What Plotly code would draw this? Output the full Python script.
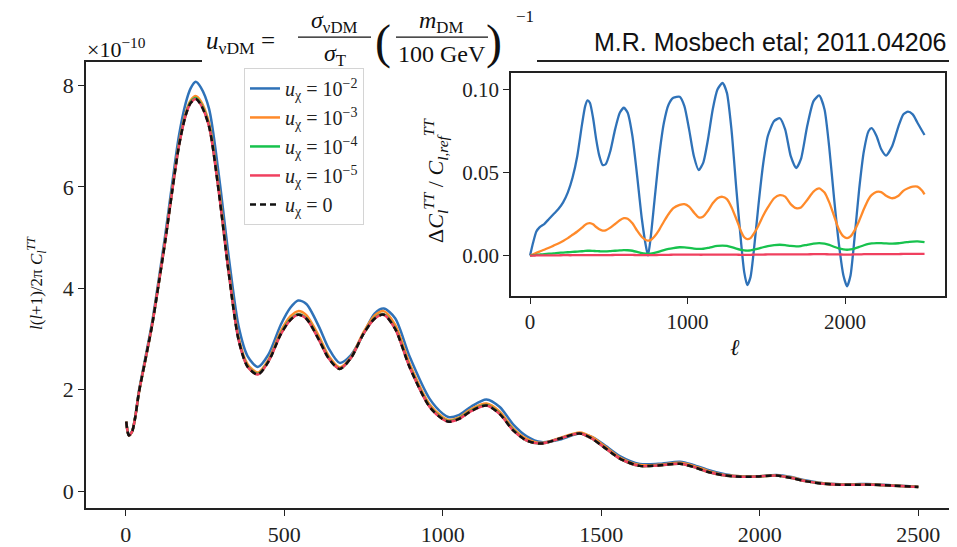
import plotly.graph_objects as go

# ---------------- data: main panel (units of 1e-10) ----------------
ell_main = [2, 5, 10, 20, 30, 42, 60, 84, 105, 126, 147, 168, 189, 205, 221, 237, 263, 294, 326, 357,
            385, 417, 450, 490, 520, 544, 570, 610, 640, 675, 710, 750, 785, 814, 850, 896, 959, 1000,
            1020, 1050, 1090, 1138, 1180, 1222, 1265, 1311, 1370, 1432, 1470, 1506, 1560, 1621, 1680,
            1748, 1790, 1832, 1880, 1926, 1990, 2052, 2100, 2147, 2200, 2252, 2300, 2357, 2420, 2500]

cl_u0 = [1.37, 1.22, 1.10, 1.17, 1.45, 1.95, 2.52, 3.29, 4.12, 4.98, 5.92, 6.80, 7.40, 7.65, 7.73, 7.62,
         7.19, 5.89, 4.26, 2.96, 2.45, 2.30, 2.55, 3.10, 3.38, 3.48, 3.40, 2.98, 2.62, 2.41, 2.62, 3.10,
         3.40, 3.48, 3.20, 2.44, 1.66, 1.42, 1.37, 1.42, 1.58, 1.69, 1.52, 1.20, 1.00, 0.94, 1.04, 1.14,
         1.04, 0.88, 0.64, 0.50, 0.51, 0.54, 0.48, 0.39, 0.32, 0.29, 0.29, 0.31, 0.26, 0.195, 0.15, 0.13,
         0.13, 0.13, 0.11, 0.085]

cl_u2 = [1.37, 1.22, 1.11, 1.18, 1.46, 1.98, 2.56, 3.35, 4.20, 5.10, 6.07, 7.00, 7.64, 7.94, 8.07, 7.96,
         7.54, 6.23, 4.58, 3.23, 2.66, 2.45, 2.69, 3.29, 3.62, 3.76, 3.69, 3.24, 2.82, 2.53, 2.68, 3.10,
         3.50, 3.60, 3.41, 2.65, 1.82, 1.53, 1.46, 1.50, 1.67, 1.81, 1.66, 1.32, 1.085, 0.97, 1.02, 1.14,
         1.07, 0.93, 0.69, 0.54, 0.54, 0.58, 0.52, 0.43, 0.35, 0.30, 0.29, 0.32, 0.28, 0.21, 0.16, 0.14,
         0.14, 0.14, 0.12, 0.09]

cl_u3 = [1.37, 1.22, 1.10, 1.17, 1.45, 1.95, 2.52, 3.30, 4.14, 5.00, 5.95, 6.84, 7.45, 7.70, 7.79, 7.69,
         7.26, 5.97, 4.33, 3.01, 2.50, 2.34, 2.59, 3.16, 3.45, 3.55, 3.47, 3.05, 2.67, 2.44, 2.64, 3.13,
         3.46, 3.55, 3.28, 2.51, 1.71, 1.46, 1.40, 1.45, 1.62, 1.73, 1.57, 1.24, 1.03, 0.95, 1.05, 1.16,
         1.07, 0.91, 0.66, 0.52, 0.52, 0.56, 0.50, 0.41, 0.33, 0.30, 0.29, 0.31, 0.27, 0.20, 0.16, 0.135,
         0.135, 0.135, 0.115, 0.088]

cl_u4 = [1.37, 1.22, 1.10, 1.17, 1.45, 1.95, 2.52, 3.29, 4.12, 4.98, 5.93, 6.81, 7.41, 7.67, 7.75, 7.64,
         7.21, 5.91, 4.27, 2.97, 2.46, 2.31, 2.56, 3.11, 3.39, 3.49, 3.41, 2.99, 2.63, 2.41, 2.62, 3.10,
         3.41, 3.49, 3.21, 2.45, 1.67, 1.43, 1.38, 1.43, 1.59, 1.70, 1.53, 1.21, 1.00, 0.94, 1.04, 1.14,
         1.04, 0.88, 0.64, 0.50, 0.51, 0.54, 0.48, 0.39, 0.32, 0.29, 0.29, 0.31, 0.26, 0.195, 0.15, 0.13,
         0.13, 0.13, 0.11, 0.085]

cl_u5 = [1.37, 1.22, 1.10, 1.17, 1.45, 1.95, 2.52, 3.29, 4.12, 4.98, 5.92, 6.80, 7.40, 7.65, 7.73, 7.62,
         7.19, 5.89, 4.26, 2.96, 2.45, 2.30, 2.55, 3.10, 3.38, 3.48, 3.40, 2.98, 2.62, 2.41, 2.62, 3.10,
         3.40, 3.48, 3.20, 2.44, 1.66, 1.42, 1.37, 1.42, 1.58, 1.69, 1.52, 1.20, 1.00, 0.94, 1.04, 1.14,
         1.04, 0.88, 0.64, 0.50, 0.51, 0.54, 0.48, 0.39, 0.32, 0.29, 0.29, 0.31, 0.26, 0.195, 0.15, 0.13,
         0.13, 0.13, 0.11, 0.085]

# ---------------- data: inset (relative difference) ----------------
ell_inset = [0, 20, 40, 60, 90, 120, 150, 180, 210, 240, 270, 300, 330, 350, 365, 380, 400, 420, 440, 461,
             480, 510, 540, 570, 596, 620, 650, 680, 710, 735, 749, 765, 790, 820, 850, 880, 910, 950, 980,
             1010, 1040, 1071, 1100, 1130, 1160, 1190, 1222, 1250, 1280, 1310, 1340, 1360, 1379, 1400,
             1420, 1450, 1480, 1510, 1550, 1586, 1620, 1655, 1690, 1720, 1760, 1800, 1836, 1870, 1900,
             1930, 1960, 1990, 2013, 2035, 2060, 2090, 2120, 2150, 2170, 2200, 2230, 2261, 2300, 2340,
             2370, 2400, 2430, 2460, 2490, 2505]

d_u2 = [0.0, 0.008, 0.0145, 0.017, 0.019,
        0.022, 0.025, 0.028, 0.032, 0.038,
        0.047, 0.060, 0.079, 0.090, 0.0935,
        0.092, 0.083, 0.070, 0.060, 0.0545,
        0.055, 0.063, 0.076, 0.086, 0.089,
        0.086, 0.072, 0.048, 0.022, 0.006,
        0.0, 0.010, 0.033, 0.060, 0.080,
        0.091, 0.095, 0.0956, 0.090, 0.076,
        0.060, 0.0515, 0.056, 0.070, 0.088,
        0.100, 0.104, 0.098, 0.075, 0.040,
        0.008, -0.010, -0.0178, -0.013, 0.002,
        0.030, 0.055, 0.072, 0.081, 0.0827,
        0.076, 0.060, 0.0527, 0.058, 0.078,
        0.093, 0.0964, 0.088, 0.065, 0.035,
        0.008, -0.012, -0.0185, -0.012, 0.010,
        0.040, 0.063, 0.075, 0.0767, 0.072,
        0.064, 0.0602, 0.066, 0.078, 0.085,
        0.0867, 0.085, 0.080, 0.075, 0.0726]

d_u3 = [0.0, 0.0008, 0.0016, 0.0024, 0.0035,
        0.0047, 0.006, 0.0073, 0.0088, 0.0105,
        0.0125, 0.0145, 0.0168, 0.0185, 0.0193,
        0.0195, 0.0188, 0.0172, 0.0158, 0.0150,
        0.0152, 0.0168, 0.019, 0.0213, 0.0225,
        0.0222, 0.0195, 0.0150, 0.0112, 0.0094,
        0.009, 0.0093, 0.0115, 0.0155, 0.0205,
        0.025, 0.0285, 0.0305, 0.031, 0.0295,
        0.026, 0.0230, 0.0235, 0.027, 0.0315,
        0.0345, 0.0354, 0.034, 0.029, 0.022,
        0.0145, 0.011, 0.0099, 0.0105, 0.013,
        0.018, 0.024, 0.029, 0.0345, 0.0364,
        0.0355, 0.031, 0.0285, 0.029, 0.0335,
        0.0385, 0.0404, 0.038, 0.032, 0.024,
        0.016, 0.0115, 0.0105, 0.0115, 0.015,
        0.021, 0.028, 0.034, 0.0365, 0.0383,
        0.0382, 0.036, 0.0345, 0.036, 0.039,
        0.0405, 0.0415, 0.0415, 0.039, 0.0368]

d_u4 = [0.0, 0.0002, 0.0004, 0.0006, 0.0009,
        0.0011, 0.0013, 0.0016, 0.0018, 0.002,
        0.0022, 0.0024, 0.0026, 0.0028, 0.0029,
        0.0029, 0.0028, 0.0027, 0.0026, 0.0025,
        0.0025, 0.0027, 0.0029, 0.0031, 0.0033,
        0.0032, 0.0029, 0.0022, 0.0014, 0.0011,
        0.001, 0.0011, 0.0016, 0.0024, 0.0033,
        0.004, 0.0045, 0.005, 0.0049, 0.0046,
        0.0042, 0.004, 0.0041, 0.0046, 0.0053,
        0.0058, 0.006, 0.0058, 0.0051, 0.0042,
        0.0034, 0.0031, 0.003, 0.0031, 0.0035,
        0.0042, 0.005, 0.0057, 0.0063, 0.0065,
        0.0063, 0.0058, 0.0055, 0.0057, 0.0065,
        0.0072, 0.0075, 0.0072, 0.0064, 0.0053,
        0.0043, 0.0037, 0.0035, 0.0037, 0.0042,
        0.0052, 0.0062, 0.007, 0.0073, 0.0075,
        0.0075, 0.0073, 0.0072, 0.0074, 0.0078,
        0.0081, 0.0084, 0.0085, 0.0083, 0.0081]

d_u5 = [0.0, 0.0, 0.00005, 0.0001, 0.0001,
        0.0001, 0.00015, 0.00015, 0.0002, 0.0002,
        0.0002, 0.00025, 0.00025, 0.0003, 0.0003,
        0.0003, 0.0003, 0.0003, 0.0003, 0.0003,
        0.0003, 0.0003, 0.00035, 0.00035, 0.0004,
        0.0004, 0.00035, 0.0003, 0.00025, 0.00025,
        0.00025, 0.00025, 0.0003, 0.00035, 0.0004,
        0.00045, 0.0005, 0.0005, 0.0005, 0.0005,
        0.0005, 0.0005, 0.0005, 0.00055, 0.0006,
        0.0006, 0.0006, 0.0006, 0.00055, 0.0005,
        0.00045, 0.00045, 0.00045, 0.00045, 0.0005,
        0.00055, 0.0006, 0.00065, 0.0007, 0.0007,
        0.0007, 0.0007, 0.0007, 0.0007, 0.00075,
        0.0008, 0.0008, 0.0008, 0.00075, 0.0007,
        0.00065, 0.0006, 0.0006, 0.0006, 0.00065,
        0.0007, 0.0008, 0.00085, 0.0009, 0.0009,
        0.0009, 0.0009, 0.0009, 0.0009, 0.00095,
        0.001, 0.001, 0.001, 0.001, 0.001]

legend_names = ["<i>u</i><sub>χ</sub> = 10<sup>−2</sup>", "<i>u</i><sub>χ</sub> = 10<sup>−3</sup>",
                "<i>u</i><sub>χ</sub> = 10<sup>−4</sup>", "<i>u</i><sub>χ</sub> = 10<sup>−5</sup>",
                "<i>u</i><sub>χ</sub> = 0"]
colors = ["#2f72b8", "#ff8a2a", "#17c24d", "#f0405f"]

main_x_ticks = [0, 500, 1000, 1500, 2000, 2500]
main_y_ticks = [0, 2, 4, 6, 8]
inset_x_ticks = [0, 1000, 2000]
inset_y_ticks = [0.0, 0.05, 0.10]
inset_y_ticklabels = ["0.00", "0.05", "0.10"]

# ---------------- figure ----------------
# the page body adds an 8px offset, so the figure is drawn 8px smaller
OFF = 8
W, H = 957 - OFF, 547 - OFF
ML, MR, MT, MB = 86 - OFF, 0, 62 - OFF, 35
PW, PH = W - ML - MR, H - MT - MB


def px(x):
    return (x - OFF - ML) / PW


def py(y):
    return (OFF + H - MB - y) / PH


SERIF = "Liberation Serif, DejaVu Serif, serif"
fig = go.Figure()

for vals, c, name in zip([cl_u2, cl_u3, cl_u4, cl_u5], colors, legend_names[:4]):
    fig.add_trace(go.Scatter(x=ell_main, y=vals, mode="lines", name=name,
                             line=dict(color=c, width=2.5, shape="spline", smoothing=0.8),
                             xaxis="x", yaxis="y"))
fig.add_trace(go.Scatter(x=ell_main, y=cl_u0, mode="lines", name=legend_names[4],
                         line=dict(color="#111111", width=2.5, dash="6px,4px", shape="spline",
                                   smoothing=0.8),
                         xaxis="x", yaxis="y"))

for vals, c in zip([d_u2, d_u3, d_u4, d_u5], colors):
    fig.add_trace(go.Scatter(x=ell_inset, y=vals, mode="lines", showlegend=False,
                             line=dict(color=c, width=2.3, shape="spline", smoothing=0.6),
                             xaxis="x2", yaxis="y2"))

axis_common = dict(showgrid=False, zeroline=False, showline=True, linecolor="#222222", linewidth=1.5,
                   ticks="outside", ticklen=6, tickwidth=1.3, tickcolor="#222222",
                   tickfont=dict(family=SERIF, size=22, color="#222222"))
inset_font = dict(family=SERIF, size=21, color="#222222")

fig.update_layout(
    width=W, height=H,
    margin=dict(l=ML, r=MR, t=MT, b=MB),
    paper_bgcolor="white", plot_bgcolor="white",
    xaxis=dict(domain=[0, 1], range=[-125, 2622], tickvals=main_x_ticks, mirror=True, **axis_common),
    yaxis=dict(domain=[0, 1], range=[-0.33, 8.46], tickvals=main_y_ticks, **axis_common),
    xaxis2=dict(domain=[px(511), px(945)], range=[-121, 2635], tickvals=inset_x_ticks, anchor="y2",
                mirror=True, **{**axis_common, "tickfont": inset_font}),
    yaxis2=dict(domain=[py(298), py(73)], range=[-0.0243, 0.110], tickvals=inset_y_ticks,
                ticktext=inset_y_ticklabels, anchor="x2", mirror=True,
                **{**axis_common, "tickfont": inset_font}),
    legend=dict(x=px(244), y=py(68), xanchor="left", yanchor="top", bgcolor="white",
                bordercolor="#d4d4d4", borderwidth=1, font=dict(family=SERIF, size=20, color="#222222"),
                itemwidth=30, tracegroupgap=0),
    showlegend=True,
)

shapes = [
    # white patch where the formula image sits over the top spine
    dict(type="rect", xref="paper", yref="paper", x0=px(202), x1=px(537), y0=py(65), y1=py(0),
         fillcolor="white", line=dict(width=0), layer="above"),
    # fraction bars
    dict(type="line", xref="paper", yref="paper", x0=px(298), x1=px(371), y0=py(37), y1=py(37),
         line=dict(color="#111111", width=1.3), layer="above"),
    dict(type="line", xref="paper", yref="paper", x0=px(396), x1=px(488), y0=py(37), y1=py(37),
         line=dict(color="#111111", width=1.3), layer="above"),
]
fig.update_layout(shapes=shapes)

ann = []


def add_text(text, x, y, size, xanchor="center", yanchor="middle", family=SERIF, angle=0):
    ann.append(dict(text=text, x=px(x), y=py(y), xref="paper", yref="paper", showarrow=False,
                    xanchor=xanchor, yanchor=yanchor, textangle=angle,
                    font=dict(family=family, size=size, color="#111111")))


# formula title
add_text("<i>u</i><sub>νDM</sub> =", 204, 42, 25, xanchor="left")
add_text("<i>σ</i><sub>νDM</sub>", 334, 22, 24)
add_text("<i>σ</i><sub>T</sub>", 335, 55, 24)
add_text("(", 383, 42, 48)
add_text("<i>m</i><sub>DM</sub>", 441, 22, 24)
add_text("100 GeV", 442, 54, 24)
add_text(")", 494, 42, 48)
add_text("−1", 525, 16, 17)
# offset text
add_text("×10<sup>−10</sup>", 85, 48, 22, xanchor="left")
# attribution
add_text("M.R. Mosbech etal; 2011.04206", 949, 42, 25, xanchor="right",
         family="Liberation Sans, Arial, sans-serif")
# axis titles
add_text("<i>l</i>(<i>l</i>+1)/2π <i>C</i><sub><i>l</i></sub><sup><i>TT</i></sup>", 36, 285, 17,
         angle=-90)
add_text("Δ<i>C</i><sub><i>l</i></sub><sup><i>TT</i></sup> / <i>C</i><sub><i>l,ref</i></sub><sup><i>TT</i></sup>",
         436, 182, 22, angle=-90)
add_text("<i>ℓ</i>", 735, 350, 23)

fig.update_layout(annotations=ann)

fig.write_html("out.html")
